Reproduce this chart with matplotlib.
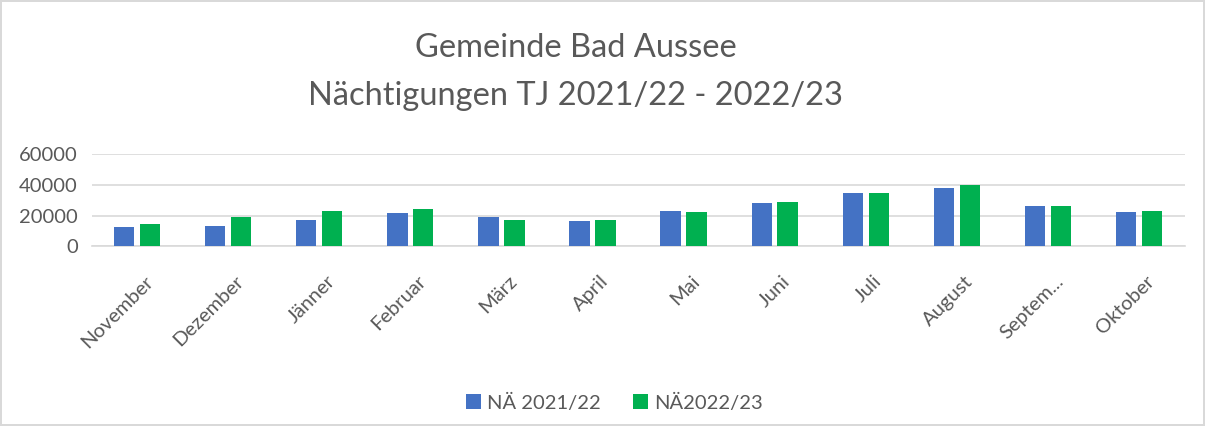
import numpy as np
import matplotlib.pyplot as plt
from matplotlib.transforms import ScaledTranslation

months = ['November', 'Dezember', 'Jänner', 'Februar', 'März', 'April',
          'Mai', 'Juni', 'Juli', 'August', 'Septem...', 'Oktober']
na_2122 = [12500, 13400, 16900, 21700, 18800, 16700,
           23000, 28300, 35000, 37900, 26300, 22600]
na_2223 = [14200, 19300, 23000, 24300, 17100, 17100,
           22600, 28700, 34800, 39600, 26100, 23000]
series_names = ['NÄ 2021/22', 'NÄ2022/23']
yticks = [0, 20000, 40000, 60000]

plt.rcParams['font.family'] = ['Lato', 'DejaVu Sans']
grey = '#595959'

fig = plt.figure(figsize=(12.05, 4.26), dpi=100)
fig.patch.set_edgecolor('#D9D9D9')
fig.patch.set_linewidth(1.5)
ax = fig.add_axes([0.076, 0.422, 0.907, 0.216])

x = np.arange(len(months))
w = 0.223
ax.bar(x - 0.142, na_2122, w, color='#4472C4', label=series_names[0], zorder=3)
ax.bar(x + 0.142, na_2223, w, color='#00B050', label=series_names[1], zorder=3)

ax.set_xlim(-0.5, len(months) - 0.5)
ax.set_ylim(0, 60000)
ax.set_yticks(yticks)
ax.set_yticklabels([str(v) for v in yticks], fontsize=14.5, color=grey)
ax.yaxis.grid(True, color='#D9D9D9', linewidth=1.2, zorder=0)
ax.set_xticks(x)
ax.set_xticklabels(months, rotation=45, ha='right', rotation_mode='anchor',
                   fontsize=14.5, color=grey)
ax.tick_params(axis='y', length=0, pad=10)
ax.tick_params(axis='x', length=0, pad=19)
# shift the rotated month labels a little to the right, like the original
shift = ScaledTranslation(7 / 100, 0, fig.dpi_scale_trans)
for lab in ax.get_xticklabels():
    lab.set_transform(lab.get_transform() + shift)
for s in ['top', 'right', 'left']:
    ax.spines[s].set_visible(False)
ax.spines['bottom'].set_color('#D9D9D9')
ax.spines['bottom'].set_linewidth(1.2)

fig.text(0.478, 0.888, 'Gemeinde Bad Aussee', ha='center', va='center',
         fontsize=23.5, color=grey)
fig.text(0.478, 0.775, 'Nächtigungen TJ 2021/22 - 2022/23', ha='center',
         va='center', fontsize=23.5, color=grey)

fig.legend(loc='center', bbox_to_anchor=(0.51, 0.055), ncol=2, frameon=False,
           fontsize=14.5, labelcolor=grey, handlelength=0.75, handleheight=0.75,
           handletextpad=0.3, columnspacing=1.6)

fig.savefig('out.png', dpi=100, edgecolor=fig.get_edgecolor())
